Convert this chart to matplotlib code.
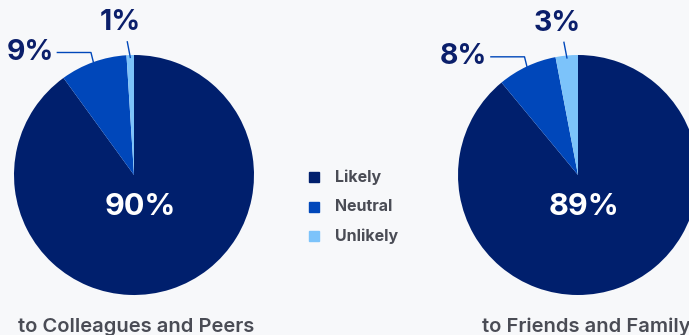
import numpy as np
import matplotlib
matplotlib.use("Agg")
import matplotlib.pyplot as plt

plt.rcParams['font.family'] = ['Inter', 'DejaVu Sans']

# Survey results: likelihood to recommend
categories = ['Likely', 'Neutral', 'Unlikely']
colleagues = [90, 9, 1]
friends = [89, 8, 3]
titles = ['to Colleagues and Peers', 'to Friends and Family']

colors = ['#001f6d', '#0047ba', '#7cc3fa']
navy = '#0b1f6b'
grey = '#4a4c55'
bg = '#f7f8fa'

W, H = 689, 335
fig = plt.figure(figsize=(W / 100, H / 100), dpi=100, facecolor=bg)

R = 120  # pie radius in px


def pie_axes(cx, cy):
    ax = fig.add_axes([(cx - R) / W, (H - cy - R) / H, 2 * R / W, 2 * R / H])
    ax.set_aspect('equal')
    ax.axis('off')
    return ax


def draw_pie(ax, values):
    wedges, _ = ax.pie(values, colors=colors, startangle=90, counterclock=False,
                       radius=1, wedgeprops=dict(linewidth=0))
    ax.set_xlim(-1, 1)
    ax.set_ylim(-1, 1)
    # big share, inside
    ax.text(0.05, -0.27, f'{values[0]}%', color='white', fontsize=22,
            fontweight='bold', ha='center', va='center')
    # neutral: elbow leader to the left
    w = wedges[1]
    mid = np.deg2rad((w.theta1 + w.theta2) / 2)
    sx, sy = np.cos(mid), np.sin(mid)
    ex, ey = sx - 0.02, sy + 0.08
    tx = ex - 0.28
    ax.plot([sx, ex, tx], [sy, ey, ey], color='#0047ba', lw=1, clip_on=False)
    ax.text(tx - 0.03, ey, f'{values[1]}%', color=navy, fontsize=20.5,
            fontweight='bold', ha='right', va='center')
    # unlikely: short leader upward
    w = wedges[2]
    mid = np.deg2rad((w.theta1 + w.theta2) / 2)
    sx, sy = 0.98 * np.cos(mid), 0.98 * np.sin(mid)
    ax.plot([sx, sx - 0.025], [sy, sy + 0.13], color='#0047ba', lw=1, clip_on=False)
    ax.text(sx - 0.08, sy + 0.29, f'{values[2]}%', color=navy, fontsize=20.5,
            fontweight='bold', ha='center', va='center')


ax1 = pie_axes(134, 175)
draw_pie(ax1, colleagues)
ax2 = pie_axes(578, 175)
draw_pie(ax2, friends)

fig.text(136.5 / W, 1 - 331.5 / H, titles[0], color=grey, fontsize=14.5,
         fontweight='semibold', ha='center', va='baseline')
fig.text(586 / W, 1 - 331.5 / H, titles[1], color=grey, fontsize=14.5,
         fontweight='semibold', ha='center', va='baseline')

# legend
for i, (lab, c) in enumerate(zip(categories, colors)):
    y = 177 + i * 29.5
    fig.patches.append(plt.Rectangle((309 / W, 1 - (y + 5) / H), 10 / W, 10 / H,
                                     transform=fig.transFigure, color=c))
    fig.text(335 / W, 1 - y / H, lab, color=grey, fontsize=11.5,
             fontweight='bold', ha='left', va='center')

fig.savefig('out.png', dpi=100, facecolor=bg)
